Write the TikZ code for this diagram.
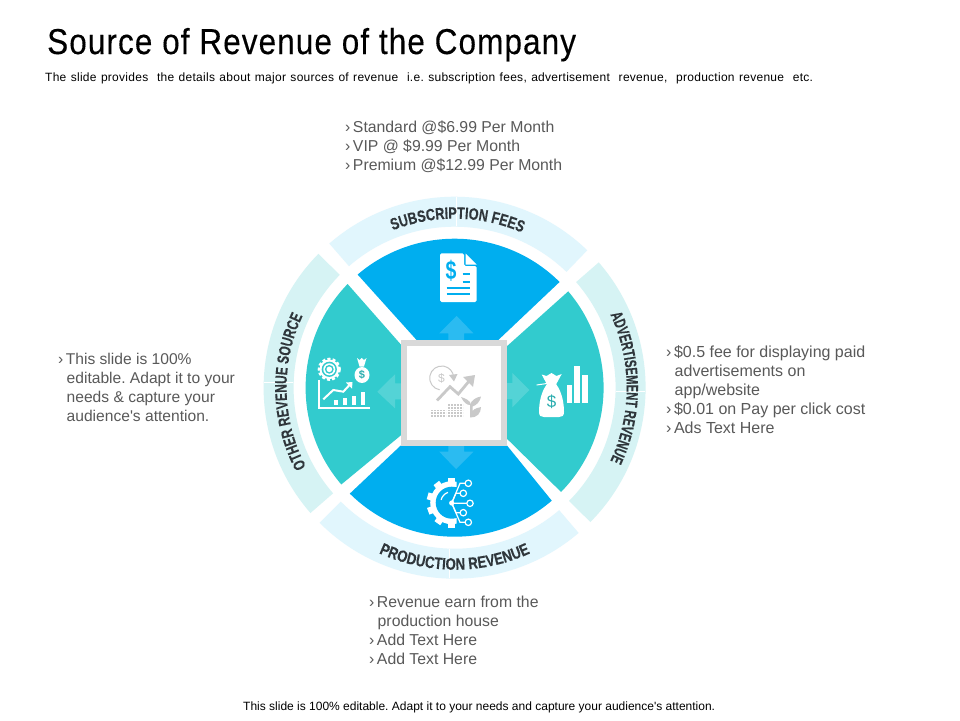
\documentclass[tikz,border=0pt]{standalone}
\usepackage{fontspec}
\setmainfont{Liberation Sans}
\usetikzlibrary{decorations.text,arrows.meta}
\newfontfamily\bodyf{Liberation Sans}
\newfontfamily\subf[LetterSpace=2.3]{Liberation Sans}
\newfontfamily\titlefont[FakeStretch=0.875,LetterSpace=3,FakeBold=0.25]{Liberation Sans}
\newfontfamily\lblA[FakeStretch=0.77,FakeBold=0.2]{Liberation Sans Bold}
\newfontfamily\lblB[FakeStretch=0.67,FakeBold=0.2]{Liberation Sans Bold}
\newfontfamily\lblC[FakeStretch=0.80,FakeBold=0.2]{Liberation Sans Bold}
\newfontfamily\lblD[FakeStretch=0.72,FakeBold=0.2]{Liberation Sans Bold}
\newcommand{\lblsize}{\fontsize{16.5}{18}\selectfont\color{lbl}}
\newcommand{\bl}{›\hspace{2.5pt}}
\newcommand{\ind}{\hspace*{8.5pt}}
\definecolor{cblue}{HTML}{00AEEF}
\definecolor{cteal}{HTML}{32CBCE}
\definecolor{rblue}{HTML}{E1F6FD}
\definecolor{rteal}{HTML}{D6F3F4}
\definecolor{sqgrey}{HTML}{D9D9D9}
\definecolor{icogrey}{HTML}{C9C9C9}
\definecolor{bodytx}{HTML}{595959}
\definecolor{lbl}{HTML}{2F363B}
\tikzset{
  bodytext/.style={anchor=north west,align=left,inner sep=0pt,text=bodytx,font=\bodyf\frenchspacing\fontsize{15.8}{19}\selectfont},
  smalltext/.style={anchor=base west,inner sep=0pt,text=black,font=\bodyf\frenchspacing\fontsize{12}{14}\selectfont},
  flow/.style={fill=white,fill opacity=.17},
  seam/.style={draw=white,line width=.6pt}
}
\newcommand{\ringsec}[3]{\fill[#1] (#2:191) arc (#2:#3:191) -- (#3:161) arc (#3:#2:161) -- cycle;}
\begin{document}
\begin{tikzpicture}[x=1pt,y=-1pt]
\useasboundingbox (0,0) rectangle (960,720);
\fill[white] (0,0) rectangle (960,720);
% titles
\node[anchor=base west,inner sep=0pt,font=\titlefont\fontsize{36}{40}\selectfont] (title) at (47,54) {Source of Revenue of the Company};
\node[smalltext,font=\subf\frenchspacing\fontsize{12}{14}\selectfont] (sub) at (45,81) {\spaceskip 4.4pt\relax The slide provides\ \ the details about major sources of revenue\ \ i.e. subscription fees, advertisement\ \ revenue,\ \ production revenue\ \ etc.};
\node[smalltext] (foot) at (243,710) {This slide is 100\% editable. Adapt it to your needs and capture your audience's attention.};
% body text
\node[bodytext] (t1) at (345,121) {\bl Standard @\$6.99 Per Month\\\bl VIP @ \$9.99 Per Month\\\bl Premium @\$12.99 Per Month};
\node[bodytext,font=\bodyf\frenchspacing\fontsize{16}{19}\selectfont] (t2) at (666,345) {\bl\$0.5 fee for displaying paid\\\ind advertisements on\\\ind app/website\\\bl\$0.01 on Pay per click cost\\\bl Ads Text Here};
\node[bodytext] (t3) at (369,596) {\bl Revenue earn from the\\\ind production house\\\bl Add Text Here\\\bl Add Text Here};
\node[bodytext,font=\bodyf\frenchspacing\fontsize{15.6}{19}\selectfont] (t4) at (58,353) {\bl This slide is 100\%\\\ind editable. Adapt it to your\\\ind needs \& capture your\\\ind audience's attention.};
% wheel
\begin{scope}[shift={(454.6,387.7)},y=1pt]
\ringsec{rblue}{46}{131}
\ringsec{rteal}{135.5}{221}
\ringsec{rblue}{225}{310.5}
\ringsec{rteal}{-44.7}{41}
\draw[seam] (1.2,161.5) -- (1.2,190.7);
\draw[seam] (-161.5,5) -- (-190.7,5);
\draw[seam] (161.5,-4) -- (190.7,-4);
\draw[seam] (-5.3,-161.5) -- (-5.3,-190.7);
\fill[cblue] (130.6:149) arc (130.6:45.2:149) -- (43.7,47.7) -- (0,5) -- (-38,47.7) -- cycle;
\fill[cteal] (40.3:149) arc (40.3:-44.4:149) -- (52,-50.7) -- (0,0) -- (53.7,42.7) -- cycle;
\fill[cblue] (225.3:149) arc (225.3:310.7:149) -- (52,-57.3) -- (0,0) -- (-53.3,-57.3) -- cycle;
\fill[cteal] (135.9:149) arc (135.9:220.5:149) -- (-53.3,-47.3) -- (0,0) -- (-53.3,42.7) -- cycle;
% ring labels
\path[decorate,decoration={text along path,text align={align=center},text={|\lblA\lblsize|SUBSCRIPTION FEES}}] (150:169) arc (150:28:169);
\path[decorate,decoration={text along path,text align={align=center},text={|\lblB\lblsize|ADVERTISEMENT REVENUE}}] (60:172) arc (60:-60:172);
\path[decorate,decoration={text along path,text align={align=center},text={|\lblC\lblsize|PRODUCTION REVENUE}}] (210:182) arc (210:330:182);
\path[decorate,decoration={text along path,text align={align=center},text={|\lblD\lblsize|OTHER REVENUE SOURCE}}] (241:168) arc (241:121.8:168);
\end{scope}
% flow arrows
\fill[flow] (448.3,340) -- (448.3,333.3) -- (439.3,333.3) -- (456.7,316) -- (473.3,333.3) -- (464,333.3) -- (464,340) -- cycle;
\fill[flow] (448.3,445) -- (448.3,451.7) -- (439.3,451.7) -- (456,469) -- (473.3,451.7) -- (464,451.7) -- (464,445) -- cycle;
\fill[flow] (401,383.3) -- (395,383.3) -- (395,374.3) -- (377.3,391.7) -- (395,408.3) -- (395,399.3) -- (401,399.3) -- cycle;
\fill[flow] (507,383) -- (512.3,383) -- (512.3,373) -- (529.3,390) -- (512.3,407.3) -- (512.3,399) -- (507,399) -- cycle;
% centre square
\node[draw=sqgrey,line width=6pt,fill=white,minimum size=100pt,inner sep=0pt] (sq) at (454,392.5) {};
% centre icon
\draw[icogrey,line width=1pt] (441.7,378) ++(100:12) arc (100:355:12);
\node[inner sep=0pt,text=icogrey,font=\bodyf\fontsize{12}{12}\selectfont] (cd) at (441.5,378.5) {\$};
\fill[icogrey] (449,375) -- (457.5,374) -- (454,381.5) -- cycle;
\draw[icogrey,line width=2.8pt] (437,400.5) -- (450,386.7) -- (458.3,394) -- (470,380);
\fill[icogrey] (463,377) -- (475,375) -- (473,387) -- cycle;
\foreach \yy in {410.5,413.2,416}{
  \draw[icogrey,line width=1.9pt,dash pattern=on 2.4pt off .6pt] (431,\yy) -- (446,\yy);}
\foreach \yy in {405,407.8,410.5,413.2,416}{
  \draw[icogrey,line width=1.9pt,dash pattern=on 2.4pt off .6pt] (448,\yy) -- (463,\yy);}
\fill[icogrey] (470,417.5) -- (470,402) .. controls (466,398) and (463,398) .. (461,397) .. controls (464,403) and (467,405) .. (470,405) .. controls (471,400) and (477,397) .. (481,396.5) .. controls (480,402) and (476,405.5) .. (472.5,406.5) -- (472.5,411) .. controls (475,408) and (478,408) .. (481,407) .. controls (481,413) and (477,418) .. (470,417.5) -- cycle;
% top icon: document
\fill[white,rounded corners=1.5pt] (440,253.3) -- (464,253.3) -- (464,266) -- (476.7,266) -- (476.7,302) -- (440,302) -- cycle;
\fill[white] (465.5,253.5) -- (476.7,264.5) -- (465.5,264.5) -- cycle;
\node[inner sep=0pt,text=cblue,font=\bodyf\bfseries\fontsize{26}{26}\selectfont] (docd) at (451,271) {\scalebox{.75}[1]{\$}};
\foreach \xa/\xb/\yy in {462.7/470/274.3,462.7/470/281.7,446.7/470/287.7,446.7/470/294.3}{
  \draw[cblue,line width=2.2pt] (\xa,\yy) -- (\xb,\yy);}
% left icon: gear, bag, chart
\fill[white] (329.3,369.3) circle[radius=9.8];
\draw[white,line width=2.4pt,dash pattern=on 3pt off 2.2pt] (329.3,369.3) circle[radius=10.4];
\fill[cteal] (329.3,369.3) circle[radius=7.6];
\fill[white] (329.3,369.3) circle[radius=6];
\fill[cteal] (329.3,369.3) circle[radius=4.4];
\fill[white] (329.3,369.3) circle[radius=2.8];
\fill[white] (362,375) ellipse[x radius=7.5,y radius=8];
\fill[white] (357,358) -- (359.5,360) -- (361.7,358) -- (364,360) -- (366.5,358) -- (364,366.5) -- (359.5,366.5) -- cycle;
\node[inner sep=0pt,text=cteal!85!black,font=\bodyf\bfseries\fontsize{11}{11}\selectfont] (lbd) at (362,375) {\$};
\draw[white,line width=2pt] (319.3,380) -- (319.3,408.3) -- (370,408.3);
\draw[white,line width=2pt] (323.3,399.3) -- (333.3,390) -- (343.3,391.7) -- (349.5,385);
\fill[white] (346,382.5) -- (352.5,382) -- (352,388.5) -- cycle;
\foreach \xx/\yy in {336/400,345/398.3,354/396,362.7/391.7}{
  \fill[white] (\xx-1.8,\yy) rectangle (\xx+1.8,404.5);}
% right icon: bag and bars
\fill[white] (547,384) .. controls (541,392) and (539,403) .. (539,412) .. controls (539,416) and (541,417) .. (544,417) -- (559,417) .. controls (562,417) and (564,416) .. (564,412) .. controls (564,403) and (562,392) .. (556,384) -- cycle;
\fill[white] (547,384.5) -- (541.7,374.5) -- (546.5,376) -- (551.5,373) -- (556.5,376) -- (561.7,374) -- (556,384.5) -- cycle;
\draw[white,line width=1pt] (536.7,385) -- (548.3,383.3);
\node[inner sep=0pt,text=cteal!85!black,font=\bodyf\fontsize{17}{17}\selectfont] (rbd) at (551.7,401.7) {\$};
\fill[white] (566.7,385) rectangle (572.3,403.3);
\fill[white] (574,366) rectangle (580,403.3);
\fill[white] (582.3,375) rectangle (587.5,403.3);
% bottom icon: circuit gear
\fill[white] (456.7,481.8) -- (451.7,481.2) arc (270:90:21.5) -- (456.7,523.6) -- cycle;
\foreach \aa in {270,232,196,160,125,90}{
  \draw[white,line width=7pt] (451.7,502.7) ++(\aa:19) -- ++(\aa:6);}
\fill[cblue] (451.7,502.7) circle[radius=16];
\fill[cblue] (453,487.2) rectangle (463,518.2);
\draw[white,line width=1.2pt] (451.7,502.7) ++(195:11) arc (195:250:11);
\fill[white] (451.7,503) circle[radius=2.6];
\foreach \px/\py/\jx in {468.3/483.3/460,463.3/493.3/456,470/503.3/452,463.3/512.7/456,468.3/522.3/460}{
  \draw[white,line width=1.2pt] (\px,\py) circle[radius=3.2];
  \draw[white,line width=1.2pt] (\px-3.2,\py) -- (\jx,\py) -- (451.7,503);}
\end{tikzpicture}
\end{document}
